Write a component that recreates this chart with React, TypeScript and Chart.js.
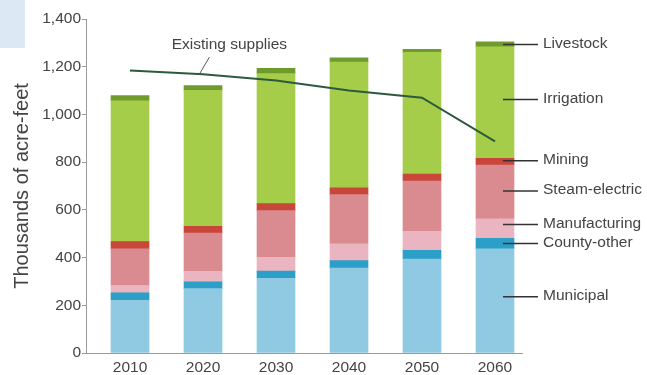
import React, { useEffect, useRef } from "react";
import { Chart, registerables } from "chart.js";

Chart.register(...registerables);

const years = [2010, 2020, 2030, 2040, 2050, 2060];
const seriesNames = ["Municipal", "County-other", "Manufacturing", "Steam-electric", "Mining", "Irrigation", "Livestock"];
const municipal = [221, 270, 313, 356, 394, 437];
const countyOther = [31, 28, 30, 31, 36, 44];
const manufacturing = [31, 44, 58, 71, 80, 81];
const steamElectric = [154, 161, 196, 206, 211, 226];
const mining = [30, 28, 29, 28, 29, 28];
const irrigation = [590, 570, 545, 527, 510, 467];
const livestock = [22, 20, 22, 18, 13, 21];
const existingSupplies = [1184, 1168, 1142, 1100, 1070, 887];
const supplyLabel = "Existing supplies";
const yTicks = [0, 200, 400, 600, 800, 1000, 1200, 1400];
const yTitle = "Thousands of acre-feet";

const seriesValues = [municipal, countyOther, manufacturing, steamElectric, mining, irrigation, livestock];
const seriesColors = ["#8fcae2", "#2b9fc8", "#eab4c1", "#d98b90", "#c8463a", "#a6cd49", "#6f9b2d"];
const labelNudge = [-4, 0, -4, -1, -1, -3, 0];

const FONT = "'Liberation Sans', Arial, sans-serif";
const TEXT = "#444444";
const AXIS = "#9a9a9a";

const labelsPlugin = {
  id: "sideLabels",
  afterDatasetsDraw(chart: any) {
    const { ctx } = chart;
    const xs = chart.scales.x;
    const ys = chart.scales.y;
    const last = years.length - 1;
    const xc = xs.getPixelForValue(years[last]);
    ctx.save();
    ctx.font = `15.5px ${FONT}`;
    ctx.textBaseline = "middle";
    ctx.textAlign = "left";
    let base = 0;
    seriesValues.forEach((vals, i) => {
      const v = vals[last];
      const y = ys.getPixelForValue(base + v / 2) + labelNudge[i];
      base += v;
      ctx.strokeStyle = "#333333";
      ctx.lineWidth = 1.5;
      ctx.beginPath();
      ctx.moveTo(xc + 8, y);
      ctx.lineTo(xc + 43, y);
      ctx.stroke();
      ctx.fillStyle = TEXT;
      ctx.fillText(seriesNames[i], xc + 48, y - 1);
    });
    // Existing supplies callout
    const xv = 2019.5;
    const t = (xv - years[0]) / (years[1] - years[0]);
    const yv = existingSupplies[0] + t * (existingSupplies[1] - existingSupplies[0]);
    const px = xs.getPixelForValue(xv);
    const py = ys.getPixelForValue(yv);
    ctx.strokeStyle = "#555555";
    ctx.lineWidth = 1;
    ctx.beginPath();
    ctx.moveTo(px, py);
    ctx.lineTo(px + 10, py - 17);
    ctx.stroke();
    ctx.textAlign = "center";
    ctx.fillStyle = TEXT;
    ctx.fillText(supplyLabel, px + 30, py - 29);
    ctx.restore();
  },
};

export default function App() {
  const ref = useRef<HTMLCanvasElement | null>(null);
  useEffect(() => {
    if (!ref.current) return;
    const barSets = seriesValues.map((vals, i) => ({
      type: "bar" as const,
      label: seriesNames[i],
      data: years.map((yr, j) => ({ x: yr, y: vals[j] })),
      backgroundColor: seriesColors[i],
      borderWidth: 0,
      barThickness: 38,
      stack: "use",
      order: 2,
    }));
    const chart = new Chart(ref.current, {
      type: "bar",
      data: {
        datasets: [
          ...barSets,
          {
            type: "line" as const,
            label: supplyLabel,
            data: years.map((yr, j) => ({ x: yr, y: existingSupplies[j] })),
            borderColor: "#2b5a3e",
            borderWidth: 2,
            pointRadius: 0,
            fill: false,
            tension: 0,
            stack: "supply",
            order: 1,
          } as any,
        ],
      },
      options: {
        responsive: false,
        animation: false,
        layout: { padding: { top: 19, right: 125, left: 0, bottom: 0 } },
        plugins: { legend: { display: false }, tooltip: { enabled: false } },
        scales: {
          x: {
            type: "linear",
            min: 2003.97,
            max: 2063.7,
            offset: false,
            stacked: true,
            grid: { display: false, drawTicks: false, offset: false },
            border: { display: true, color: AXIS, width: 1 },
            afterBuildTicks: (scale: any) => {
              scale.ticks = years.map((v) => ({ value: v }));
            },
            afterFit: (scale: any) => {
              scale.height = 22;
            },
            ticks: {
              font: { family: FONT, size: 15.5 },
              color: TEXT,
              padding: 5,
              autoSkip: false,
              maxRotation: 0,
              callback: (v: any) => String(v),
            },
          },
          y: {
            type: "linear",
            min: 0,
            max: 1400,
            stacked: true,
            afterBuildTicks: (scale: any) => {
              scale.ticks = yTicks.map((v) => ({ value: v }));
            },
            afterFit: (scale: any) => {
              scale.width = 86;
            },
            grid: { display: true, drawOnChartArea: false, tickLength: 4, color: AXIS },
            border: { display: true, color: AXIS, width: 1 },
            ticks: {
              font: { family: FONT, size: 15.5 },
              color: TEXT,
              padding: 1,
              callback: (v: any) => Number(v).toLocaleString("en-US"),
            },
            title: {
              display: true,
              text: yTitle,
              font: { family: FONT, size: 20 },
              color: TEXT,
              padding: { top: 10, bottom: 0 },
            },
          },
        },
      },
      plugins: [labelsPlugin],
    } as any);
    return () => chart.destroy();
  }, []);
  return (
    <div style={{ position: "fixed", left: 0, top: 0, width: 647, height: 375, background: "#ffffff" }}>
      <div style={{ position: "absolute", left: 0, top: 0, width: 25, height: 48, background: "#dde8f5" }} />
      <canvas ref={ref} width={647} height={375} style={{ position: "absolute", left: 0, top: 0, display: "block" }} />
    </div>
  );
}
